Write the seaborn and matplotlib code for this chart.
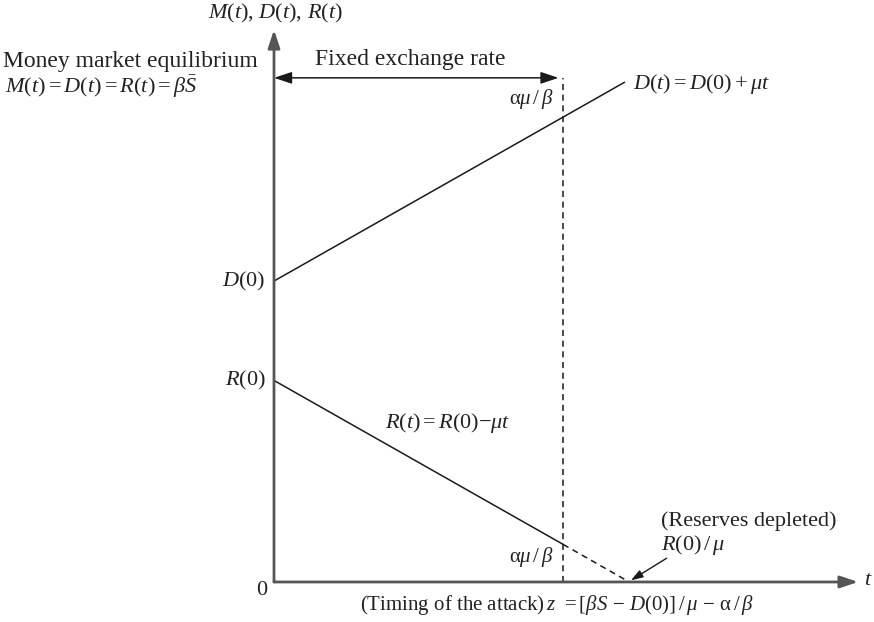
import matplotlib
matplotlib.use("Agg")
import matplotlib.pyplot as plt
import seaborn as sns
import pandas as pd

sns.set_theme(style="white")
plt.rcParams["font.family"] = ["Liberation Serif", "DejaVu Serif"]
plt.rcParams["mathtext.fontset"] = "custom"
plt.rcParams["mathtext.rm"] = "Liberation Serif"
plt.rcParams["mathtext.it"] = "Liberation Serif:italic"
plt.rcParams["mathtext.bf"] = "Liberation Serif:bold"

# Schematic levels (arbitrary units)
d_t = [0.0, 6.0]           # domestic credit line D(t)
d_vals = [5.45, 9.05]
r_t = [0.0, 4.95]          # reserves line R(t) up to the attack
r_vals = [3.65, 0.68]
r_dash_t = [4.95, 6.08]    # shadow path of reserves to depletion
r_dash_vals = [0.68, 0.0]
attack_t = 4.95            # timing of the attack z
equilibrium = 9.13         # money market equilibrium level beta*S
depletion_t = 6.08         # R(0)/mu
d0 = 5.45
r0 = 3.65

XLIM = (-4.69, 10.27)
YLIM = (-0.725, 10.54)

fig = plt.figure(figsize=(8.74, 6.22), dpi=100)
ax = fig.add_axes([0, 0, 1, 1])

axis_col = "#555555"
line_col = "#1a1a1a"
txt_col = "#222222"
fs = 16

# data lines
df_d = pd.DataFrame({"t": d_t, "v": d_vals})
df_r = pd.DataFrame({"t": r_t, "v": r_vals})
df_rd = pd.DataFrame({"t": r_dash_t, "v": r_dash_vals})
sns.lineplot(data=df_d, x="t", y="v", ax=ax, color=line_col, lw=1.1)
sns.lineplot(data=df_r, x="t", y="v", ax=ax, color=line_col, lw=1.1)
sns.lineplot(data=df_rd, x="t", y="v", ax=ax, color=line_col, lw=1.1,
             linestyle=(0, (4, 3)))
ax.set_xlim(*XLIM)
ax.set_ylim(*YLIM)
ax.axis("off")

# axes with arrows
ax.annotate("", xy=(0, 10.0), xytext=(0, 0),
            arrowprops=dict(arrowstyle="-|>,head_length=0.9,head_width=0.3",
                            color=axis_col, lw=2.0, shrinkA=0, shrinkB=0))
ax.annotate("", xy=(10.0, 0), xytext=(0, 0),
            arrowprops=dict(arrowstyle="-|>,head_length=0.9,head_width=0.3",
                            color=axis_col, lw=2.0, shrinkA=0, shrinkB=0))

# vertical dashed line at attack time
ax.plot([attack_t, attack_t], [0, equilibrium], color=line_col, lw=1.1,
        linestyle=(0, (4, 3)))

# fixed exchange rate double arrow
ax.annotate("", xy=(attack_t - 0.08, equilibrium), xytext=(0, equilibrium),
            arrowprops=dict(arrowstyle="<|-|>,head_length=0.9,head_width=0.3",
                            color=line_col, lw=1.1, shrinkA=0, shrinkB=0))

# labels
ax.text(0.03, 10.29, r"$M(t)$, $D(t)$, $R(t)$", ha="center", va="center",
        fontsize=fs, color=txt_col)
ax.text(-4.64, 9.42, "Money market equilibrium", ha="left", va="center",
        fontsize=fs + 1, color=txt_col)
ax.text(-4.6, 8.97, r"$M(t) = D(t) = R(t) = \beta\bar{S}$", ha="left", va="center",
        fontsize=fs, color=txt_col)
ax.text(2.34, 9.46, "Fixed exchange rate", ha="center", va="center",
        fontsize=fs + 1, color=txt_col)
ax.text(4.78, 8.75, r"$\mathrm{\alpha}\mu\,/\,\beta$", ha="right",
        va="center", fontsize=fs - 1, color=txt_col)
ax.text(6.15, 9.02, r"$D(t) = D(0) + \mu t$", ha="left", va="center",
        fontsize=fs, color=txt_col)
ax.text(-0.14, d0, r"$D$(0)", ha="right", va="center", fontsize=fs, color=txt_col)
ax.text(-0.14, r0, r"$R$(0)", ha="right", va="center", fontsize=fs, color=txt_col)
ax.text(-0.12, -0.16, "0", ha="right", va="center", fontsize=fs, color=txt_col)
ax.text(1.9, 2.88, r"$R(t) = R(0){-}\mu t$", ha="left", va="center",
        fontsize=fs, color=txt_col)
ax.text(4.78, 0.45, r"$\mathrm{\alpha}\mu\,/\,\beta$", ha="right",
        va="center", fontsize=fs - 1, color=txt_col)
ax.text(6.62, 1.11, "(Reserves depleted)", ha="left", va="center",
        fontsize=fs, color=txt_col)
ax.text(6.62, 0.67, r"$R(0)\,/\,\mu$", ha="left", va="center",
        fontsize=fs, color=txt_col)
ax.annotate("", xy=(depletion_t + 0.03, 0.03), xytext=(6.72, 0.43),
            arrowprops=dict(arrowstyle="-|>,head_length=0.6,head_width=0.2",
                            color=line_col, lw=1.0, shrinkA=0, shrinkB=0))
ax.text(10.1, 0.02, r"$t$", ha="left", va="center", fontsize=fs, color=txt_col)
ax.text(1.47, -0.42,
        r"(Timing of the attack)$\,z\;\,=[\beta S \,-\, D(0)]\,/\,\mu \,-\, \mathrm{\alpha}\,/\,\beta$",
        ha="left", va="center", fontsize=fs - 1, color=txt_col)

fig.savefig("out.png", dpi=100)
